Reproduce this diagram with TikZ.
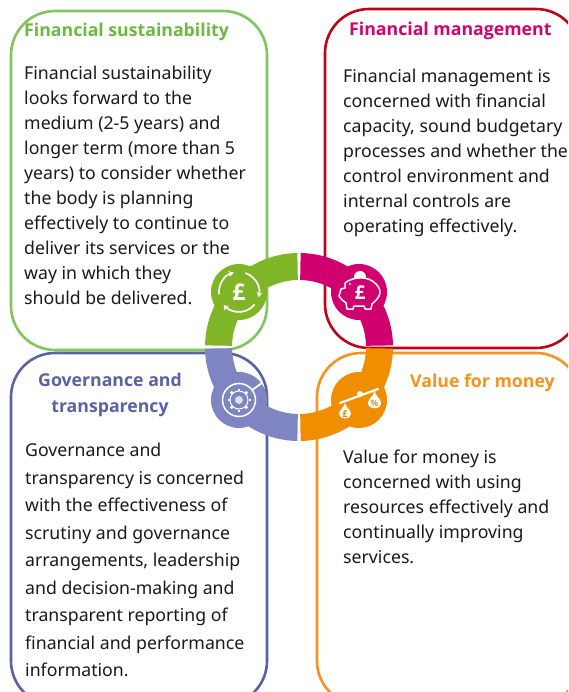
\documentclass[tikz,border=0pt]{standalone}
\usepackage{fontspec}
\setmainfont{Noto Sans}
\newfontfamily\headfont{Open Sans}
\definecolor{bgreen}{HTML}{80C65B}
\definecolor{bred}{HTML}{C00418}
\definecolor{bblue}{HTML}{5A62A4}
\definecolor{borange}{HTML}{F8931F}
\definecolor{rgreen}{HTML}{7FB526}
\definecolor{rmag}{HTML}{D1006F}
\definecolor{rblue}{HTML}{7E85C0}
\definecolor{rorange}{HTML}{F18D00}
\definecolor{hgreen}{HTML}{6DB83F}
\definecolor{hmag}{HTML}{D6006E}
\definecolor{ink}{HTML}{1A1A1A}
\usetikzlibrary{arrows.meta}
\tikzset{
  panel/.style={line width=2.6pt,rounded corners=44pt},
  body/.style={inner sep=0pt,anchor=north west,align=left,text=ink,font=\fontsize{17.7}{25}\selectfont},
  bodywide/.style={body,font=\fontsize{17.7}{27.5}\selectfont},
  head/.style={inner sep=0pt,align=center,font=\headfont\bfseries\fontsize{17.7}{26}\selectfont},
  iconline/.style={white,line width=1.5pt,line cap=round,line join=round},
  iconarrow/.style={iconline,line width=1.7pt,-{Stealth[length=5pt,width=6pt]}},
  iconglyph/.style={inner sep=0pt,text=white,font=\headfont\bfseries\fontsize{23}{23}\selectfont}
}
\newcommand{\ringsector}[3]{% colour, start angle, end angle
  \fill[#1] ({299+94*cos(#2)},{347-94*sin(#2)}) arc[start angle=#2,end angle=#3,radius=94pt]
    -- ({299+67*cos(#3)},{347-67*sin(#3)}) arc[start angle=#3,end angle=#2,radius=67pt] -- cycle;}
\newcommand{\iconarc}[5]{% cx, cy, radius, from, to
  \draw[iconarrow] ({#1+#3*cos(#4)},{#2-#3*sin(#4)}) arc[start angle=#4,end angle=#5,radius=#3pt];}
\begin{document}
\begin{tikzpicture}[x=1pt,y=-1pt]
\useasboundingbox (0,0) rectangle (568,692);
\clip (0,0) rectangle (568,692);
\fill[white] (0,0) rectangle (568,692);
% panels
\draw[panel,bgreen] (11,11) rectangle (267,350);
\draw[panel,bred] (325,9) rectangle (580,348);
\draw[panel,bblue] (11,353) rectangle (267,705);
\draw[panel,borange] (317,353) rectangle (580,705);
% ring
\ringsector{rgreen}{91}{179}
\ringsector{rmag}{1}{89}
\ringsector{rblue}{181}{269}
\ringsector{rorange}{271}{359}
\fill[rgreen] (239,292) circle[radius=28pt];
\fill[rmag] (359,292) circle[radius=28pt];
\fill[rblue] (239,400) circle[radius=28pt];
\fill[rorange] (359,400) circle[radius=28pt];
% icon: circling arrows and pound
\node[iconglyph] (iconA) at (239,292) {£};
\iconarc{239}{292}{20}{185}{105}
\iconarc{239}{292}{20}{70}{-15}
\iconarc{239}{292}{20}{-40}{-140}
% icon: piggy bank
\fill[white] (360,277) circle[radius=6pt];
\begin{scope}[yshift=4pt]
\draw[iconline,fill=rmag] (345,287) .. controls (352,281) and (368,279) .. (376,288)
  .. controls (380,292) and (381,296) .. (379,300)
  .. controls (377,304) and (374,306) .. (372,308) -- (371,313) -- (365,313) -- (364,310)
  -- (354,310) -- (353,313) -- (347,313) -- (346,307)
  .. controls (342,304) and (340,302) .. (339,300) -- (341,293) -- (345,292) -- (345,287);
\fill[white] (350,288) circle[radius=1.2pt];
\end{scope}
\node[iconglyph,font=\headfont\bfseries\fontsize{19}{19}\selectfont] (iconB) at (360,293) {£};
% icon: gear
\draw[white,line width=1.5pt] (239,400) circle[radius=16.5pt];
\draw[white,line width=1.8pt] (252,390) -- (262,383);
\foreach \a in {0,45,...,315}{
  \draw[white,line width=2.6pt] ({239+9.5*cos(\a)},{400+9.5*sin(\a)}) -- ({239+11.5*cos(\a)},{400+11.5*sin(\a)});
}
\draw[white,line width=1pt] (239,400) circle[radius=9pt];
\fill[white!75!rblue] (239,400) circle[radius=4pt];
% icon: balance with money bags
\draw[white,line width=2.2pt,line cap=round] (340,403) -- (378,389);
\fill[white] (360,394) circle[radius=3pt];
\fill[white] (345,403) .. controls (343,409) and (339,410) .. (339,414) .. controls (339,420) and (351,420) .. (351,414) .. controls (351,410) and (347,409) .. (345,403) -- cycle;
\fill[white] (374.5,391) .. controls (372,398) and (368,399) .. (368,403) .. controls (368,410) and (381,410) .. (381,403) .. controls (381,399) and (377,398) .. (374.5,391) -- cycle;
\node[inner sep=0pt,text=rorange,font=\headfont\bfseries\fontsize{9.5}{9.5}\selectfont] (iconC) at (345,414) {£};
\node[inner sep=0pt,text=rorange,font=\headfont\bfseries\fontsize{8.5}{8.5}\selectfont] (iconD) at (374.5,403.5) {\%};
% headings
\node[head,text=hgreen,anchor=west] (hA) at (24,32) {Financial sustainability};
\node[head,text=hmag,anchor=west] (hB) at (349,31) {Financial management};
\node[head,text=bblue] (hC) at (110,395) {Governance and\\transparency};
\node[head,text=borange,anchor=west] (hD) at (410,383) {Value for money};
% bodies
\node[body] (tA) at (24,66) {Financial sustainability\\looks forward to the\\medium (2-5 years) and\\longer term (more than 5\\years) to consider whether\\the body is planning\\effectively to continue to\\deliver its services or the\\way in which they\\should be delivered.};
\node[body] (tB) at (343,69) {Financial management is\\concerned with financial\\capacity, sound budgetary\\processes and whether the\\control environment and\\internal controls are\\operating effectively.};
\node[bodywide] (tC) at (25,443) {Governance and\\transparency is concerned\\with the effectiveness of\\scrutiny and governance\\arrangements, leadership\\and decision-making and\\transparent reporting of\\financial and performance\\information.};
\node[body] (tD) at (343,450) {Value for money is\\concerned with using\\resources effectively and\\continually improving\\services.};
\end{tikzpicture}
\end{document}
